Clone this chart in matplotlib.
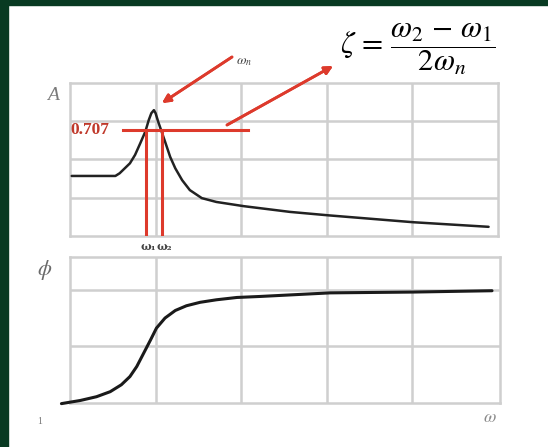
import matplotlib
matplotlib.use("Agg")
from matplotlib import pyplot as plt
from matplotlib.patches import Rectangle

# amplitude curve (x in grid columns, y in grid rows)
amp_x = [0.02, 0.53, 0.58, 0.64, 0.70, 0.76, 0.82, 0.88, 0.92, 0.95, 0.98, 1.00,
         1.03, 1.07, 1.11, 1.17, 1.23, 1.31, 1.40, 1.54, 1.71, 2.03, 2.57, 3.02,
         4.01, 4.89]
amp_y = [1.57, 1.57, 1.64, 1.77, 1.90, 2.12, 2.42, 2.73, 3.03, 3.21, 3.29, 3.21,
         2.99, 2.73, 2.47, 2.07, 1.77, 1.46, 1.20, 0.99, 0.89, 0.78, 0.63, 0.54,
         0.36, 0.24]

# phase curve (degrees)
ph_x = [-0.10, 0.12, 0.31, 0.47, 0.60, 0.70, 0.78, 0.86, 0.94, 1.01, 1.11, 1.23,
        1.36, 1.52, 1.71, 1.95, 2.22, 3.04, 4.01, 4.93]
ph_y = [-1, 4, 10, 18, 29, 42, 58, 79, 100, 119, 135, 147, 154.5, 160, 164,
        167.7, 169.3, 175, 176.3, 178.4]

half_power = 2.77
w1, w2 = 0.89, 1.08

W, H = 548, 447
red = "#dd3a2c"
grid_c = "#cfcfcf"

plt.rcParams["mathtext.fontset"] = "stix"


def fp(x, y):
    # top-left pixel -> figure fraction
    return x / W, 1 - y / H


fig = plt.figure(figsize=(W / 100, H / 100), dpi=100)
fig.patches.append(Rectangle((0, 0), 8 / W, 1, transform=fig.transFigure, color="#083a22", zorder=0))
fig.patches.append(Rectangle((0, 1 - 5 / H), 1, 5 / H, transform=fig.transFigure, color="#083a22", zorder=0))

ax1 = fig.add_axes([70 / W, 1 - 236 / H, 428 / W, 153 / H])
ax2 = fig.add_axes([70 / W, 1 - 403 / H, 430 / W, 146 / H])

for ax in (ax1, ax2):
    ax.set_xticks([1, 2, 3, 4])
    ax.tick_params(length=0, labelbottom=False, labelleft=False)
    ax.grid(True, color=grid_c, lw=1.8)
    for s in ax.spines.values():
        s.set_color(grid_c)
        s.set_linewidth(1.8)

ax1.set(xlim=[0, 5], ylim=[0, 4])
ax1.set_yticks([1, 2, 3])
ax1.plot(amp_x, amp_y, color="#222222", lw=1.8, zorder=3,
         solid_joinstyle="round", solid_capstyle="round")
ax1.plot([0.62, 2.08], [half_power, half_power], color=red, lw=2.2, zorder=4)
ax1.plot([w1, w1], [0, half_power], color=red, lw=2.2, zorder=4)
ax1.plot([w2, w2], [0, half_power], color=red, lw=2.2, zorder=4)

ax2.set(xlim=[0, 430 / 85.6], ylim=[0, 232])
ax2.set_yticks([90, 180])
ax2.plot(ph_x, ph_y, color="#1a1a1a", lw=2.2, clip_on=False, zorder=3,
         solid_joinstyle="round", solid_capstyle="round")

# labels
fig.text(*fp(53, 95), "A", fontsize=14, family="Liberation Serif", style="italic",
         color="#7a7a7a", ha="center", va="center")
fig.text(*fp(45, 270), r"$\phi$", fontsize=16, color="#6a6a6a", ha="center", va="center")
fig.text(*fp(90, 130), "0.707", fontsize=12.5, family="Liberation Serif", weight="bold",
         color="#c0392b", ha="center", va="center")
fig.text(*fp(148, 247), "ω₁", fontsize=8, family="DejaVu Serif", weight="bold",
         color="#444444", ha="center", va="center")
fig.text(*fp(164, 247), "ω₂", fontsize=8, family="DejaVu Serif", weight="bold",
         color="#444444", ha="center", va="center")
fig.text(*fp(244, 61), r"$\omega_n$", fontsize=10, color="#444444", ha="center", va="center")
fig.text(*fp(490, 417), r"$\omega$", fontsize=13, color="#8a8a8a", ha="center", va="center")
fig.text(*fp(40, 421), "1", fontsize=7, family="Liberation Serif", color="#777777",
         ha="center", va="center")
fig.text(*fp(418, 49), r"$\zeta\,=\,\dfrac{\omega_2\,-\,\omega_1}{2\omega_n}$", fontsize=22,
         color="black", ha="center", va="center")

arrow = dict(arrowstyle="-|>", color=red, lw=2, mutation_scale=12, shrinkA=0, shrinkB=0)
fig.add_artist(plt.annotate("", xy=fp(162, 103), xytext=fp(232, 57),
                            xycoords="figure fraction", textcoords="figure fraction",
                            arrowprops=arrow))
fig.add_artist(plt.annotate("", xy=fp(333, 66), xytext=fp(227, 125),
                            xycoords="figure fraction", textcoords="figure fraction",
                            arrowprops=arrow))

plt.savefig("out.png", dpi=100)
